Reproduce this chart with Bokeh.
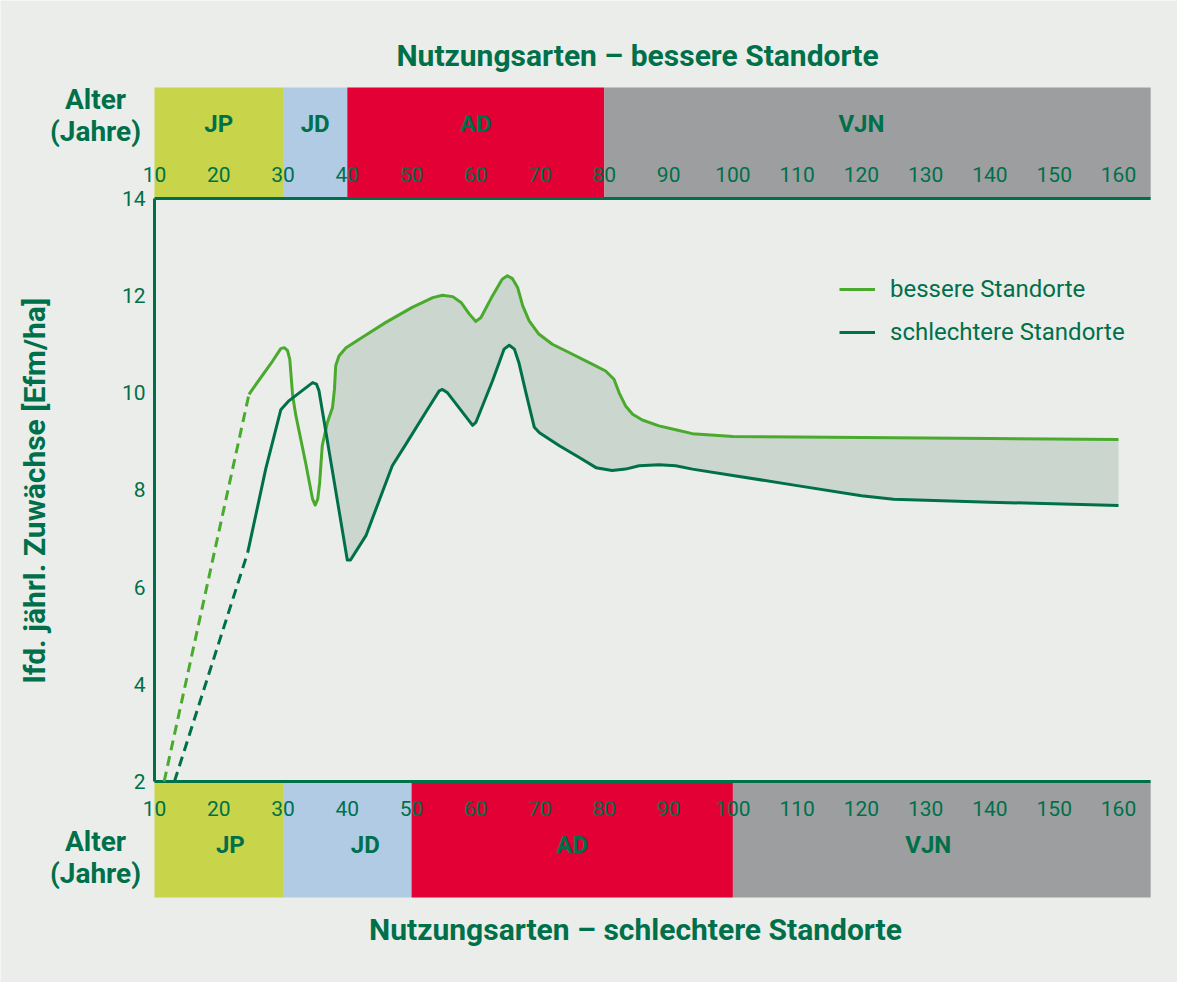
import numpy as np
from bokeh.plotting import figure
from bokeh.models import Range1d, Legend, LegendItem
from bokeh.core.properties import value
from bokeh.embed import file_html
from bokeh.resources import INLINE

# ---------------- data ----------------
# bessere Standorte (age in years, Efm/ha); first segment is dashed (extrapolated)
bess_age = [11.5, 24.7, 28.4, 29.65, 30.2, 30.7, 31.05, 31.5, 32.0, 33.5, 34.6, 35.0, 35.4,
            35.7, 36.1, 36.9, 37.7, 38.0, 38.2, 38.7, 39.8, 42.9, 46.0, 50.1, 53.3, 54.8,
            56.4, 57.7, 59.0, 60.0, 60.8, 62.6, 64.1, 64.9, 65.7, 66.5, 67.3, 68.3, 69.8,
            71.9, 74.5, 78.1, 80.2, 81.5, 82.3, 83.3, 84.4, 85.9, 88.5, 91.1, 93.7, 100.0,
            110.0, 120.0, 140.0, 160.0]
bess_val = [2.0, 9.97, 10.66, 10.91, 10.93, 10.87, 10.69, 9.94, 9.53, 8.57, 7.81, 7.69, 7.81,
            8.15, 8.91, 9.39, 9.70, 10.07, 10.56, 10.76, 10.93, 11.19, 11.45, 11.76, 11.96, 12.01,
            11.98, 11.86, 11.62, 11.47, 11.55, 12.0, 12.34, 12.41, 12.35, 12.17, 11.79, 11.48, 11.21,
            11.0, 10.83, 10.59, 10.45, 10.28, 10.0, 9.73, 9.56, 9.44, 9.32, 9.24, 9.16, 9.10,
            9.09, 9.08, 9.06, 9.04]

# schlechtere Standorte
schl_age = [13.1, 24.5, 27.3, 29.65, 30.95, 34.6, 35.2, 35.6, 40.0, 40.5, 42.9, 47.0, 49.1,
            52.2, 54.3, 54.8, 55.6, 59.5, 60.0, 62.6, 64.4, 65.2, 66.0, 66.7, 67.8, 69.1, 69.9,
            73.0, 76.1, 78.7, 81.2, 83.3, 85.4, 88.5, 91.1, 93.7, 100.0, 110.0, 120.0, 125.0,
            140.0, 160.0]
schl_val = [2.0, 6.71, 8.43, 9.65, 9.84, 10.21, 10.18, 10.04, 6.56, 6.56, 7.06, 8.50, 8.94,
            9.60, 10.04, 10.07, 10.0, 9.33, 9.39, 10.25, 10.90, 10.98, 10.90, 10.62, 10.0, 9.29, 9.18,
            8.91, 8.67, 8.46, 8.40, 8.43, 8.50, 8.52, 8.50, 8.43, 8.30, 8.09, 7.88, 7.81,
            7.75, 7.68]

series_names = ["bessere Standorte", "schlechtere Standorte"]

x_ticks = [10, 20, 30, 40, 50, 60, 70, 80, 90, 100, 110, 120, 130, 140, 150, 160]
y_ticks = [2, 4, 6, 8, 10, 12, 14]

band_names = ["JP", "JD", "AD", "VJN"]
top_band_start = [10, 30, 40, 80]
top_band_end = [30, 40, 80, 165]
bot_band_start = [10, 30, 50, 100]
bot_band_end = [30, 50, 100, 165]

title_top = "Nutzungsarten \u2013 bessere Standorte"
title_bottom = "Nutzungsarten \u2013 schlechtere Standorte"
y_title = "lfd. j\u00e4hrl. Zuw\u00e4chse [Efm/ha]"
age_title = ["Alter", "(Jahre)"]

# ---------------- style / layout ----------------
BG = "#ebedea"
TXT = "#00704a"
LIGHT = "#4aaa2e"
DARK = "#00704a"
FILL = "#cbd6ce"
BAND_COLORS = ["#c8d44a", "#b1cbe5", "#e20035", "#9d9ea0"]
FONT_NAME = "Roboto"
FONT = value(FONT_NAME)

W, H = 1177, 982
OFF = 8
# pixel <-> data mapping (page pixels)
PX10, PX_PER_YEAR = 162.0, 6.4267
PY14, PY_PER_UNIT = 206.0, 48.583


def X(px):
    return 10 + (px - PX10) / PX_PER_YEAR


def Y(py):
    return 14 - (py - PY14) / PY_PER_UNIT


p = figure(width=W, height=H, x_range=Range1d(X(OFF), X(OFF + W)),
           y_range=Range1d(Y(OFF + H), Y(OFF)), x_axis_type=None, y_axis_type=None,
           output_backend="svg", toolbar_location=None, min_border=0)
p.grid.visible = False
p.outline_line_color = None
p.background_fill_color = BG
p.border_fill_color = BG

# bands
top_lo, top_hi = 14, Y(95)
bot_lo, bot_hi = Y(905), 2
p.quad(left=top_band_start, right=top_band_end, bottom=[top_lo] * 4, top=[top_hi] * 4,
       fill_color=BAND_COLORS, line_color=None)
p.quad(left=bot_band_start, right=bot_band_end, bottom=[bot_lo] * 4, top=[bot_hi] * 4,
       fill_color=BAND_COLORS, line_color=None)

# band labels
top_lab_x = [(a + b) / 2 for a, b in zip(top_band_start, top_band_end)]
top_lab_x[-1] = (80 + 160) / 2
bot_lab_x = [21.8, 42.8, 75, 130.4]
p.text(x=top_lab_x, y=[Y(131)] * 4, text=band_names, text_font=FONT, text_font_style="bold",
       text_font_size="24px", text_color=TXT, text_align="center", text_baseline="middle")
p.text(x=bot_lab_x, y=[Y(852)] * 4, text=band_names, text_font=FONT, text_font_style="bold",
       text_font_size="24px", text_color=TXT, text_align="center", text_baseline="middle")

# tick labels
p.text(x=x_ticks, y=[Y(182)] * len(x_ticks), text=[str(t) for t in x_ticks], text_font=FONT,
       text_font_size="21px", text_color=TXT, text_align="center", text_baseline="middle")
p.text(x=x_ticks, y=[Y(816)] * len(x_ticks), text=[str(t) for t in x_ticks], text_font=FONT,
       text_font_size="21px", text_color=TXT, text_align="center", text_baseline="middle")
p.text(x=[X(153)] * len(y_ticks), y=y_ticks, text=[str(t) for t in y_ticks], text_font=FONT,
       text_font_size="21px", text_color=TXT, text_align="right", text_baseline="middle")

# fill between curves where bessere above schlechtere
grid = np.linspace(30, 160, 5201)
b_i = np.interp(grid, bess_age, bess_val)
s_i = np.interp(grid, schl_age, schl_val)
mask = (grid > 36) & (b_i >= s_i)
p.varea(x=grid[mask], y1=s_i[mask], y2=b_i[mask], fill_color=FILL)

# frame lines
p.segment(x0=[10, 10, 10], y0=[14, 2, 2], x1=[165, 165, 10], y1=[14, 2, 14],
          line_color=DARK, line_width=3)

# curves
p.line(bess_age[:2], bess_val[:2], line_color=LIGHT, line_width=3, line_dash="10 6")
p.line(schl_age[:2], schl_val[:2], line_color=DARK, line_width=3, line_dash="10 6")
rb = p.line(bess_age[1:], bess_val[1:], line_color=LIGHT, line_width=3, line_join="round")
rs = p.line(schl_age[1:], schl_val[1:], line_color=DARK, line_width=3, line_join="round")

legend = Legend(items=[LegendItem(label=series_names[0], renderers=[rb]),
                       LegendItem(label=series_names[1], renderers=[rs])],
                location=(839, 636), background_fill_alpha=0, border_line_color=None,
                padding=0, margin=0, spacing=15, glyph_width=36, glyph_height=28,
                label_height=28, label_standoff=15, label_text_font=FONT_NAME,
                label_text_font_size="24px", label_text_color=TXT)
p.add_layout(legend)

# titles
p.text(x=[X(645)], y=[Y(63)], text=[title_top], text_font=FONT, text_font_style="bold",
       text_font_size="30px", text_color=TXT, text_align="center", text_baseline="middle")
p.text(x=[X(643)], y=[Y(937)], text=[title_bottom], text_font=FONT, text_font_style="bold",
       text_font_size="30px", text_color=TXT, text_align="center", text_baseline="middle")
p.text(x=[X(42)], y=[Y(498)], text=[y_title], angle=np.pi / 2, text_font=FONT,
       text_font_style="bold", text_font_size="30px", text_color=TXT, text_align="center",
       text_baseline="middle")
p.text(x=[X(103)] * 2, y=[Y(107), Y(139)], text=age_title, text_font=FONT,
       text_font_style="bold", text_font_size="28px", text_color=TXT, text_align="center",
       text_baseline="middle")
p.text(x=[X(103)] * 2, y=[Y(849), Y(881)], text=age_title, text_font=FONT,
       text_font_style="bold", text_font_size="28px", text_color=TXT, text_align="center",
       text_baseline="middle")

open("out.html", "w").write(file_html(p, INLINE))
